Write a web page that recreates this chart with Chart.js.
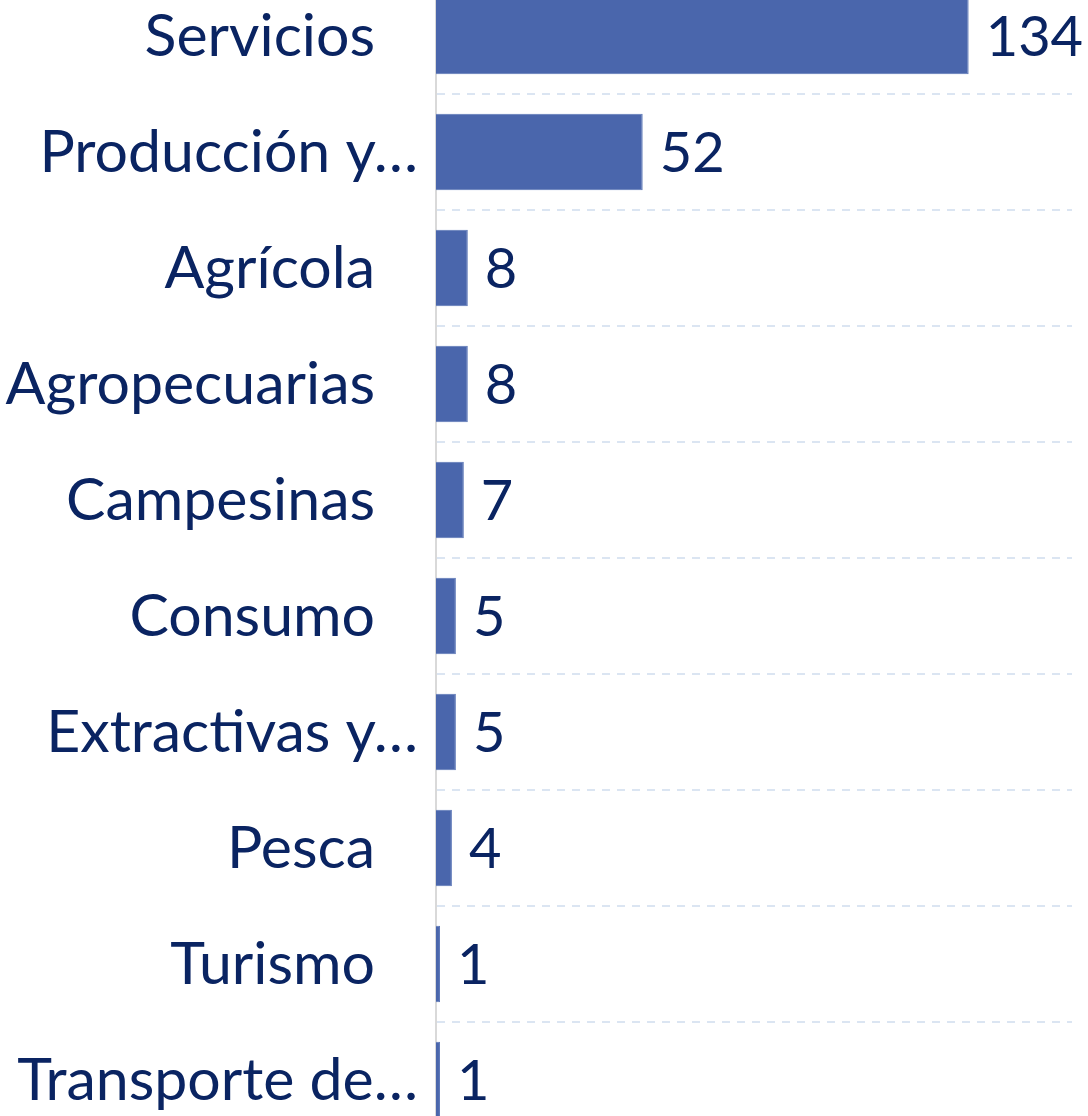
<!DOCTYPE html>
<html>
<head>
<meta charset="utf-8">
<script src="https://cdn.jsdelivr.net/npm/chart.js@4.4.0/dist/chart.umd.min.js"></script>
<style>
  html, body { margin:0; padding:0; background:#fff; overflow:hidden; }
  #wrap { position:relative; width:1088px; height:1116px; overflow:hidden; }
  #box { position:absolute; left:0; top:-22px; width:1088px; height:1160px; }
</style>
</head>
<body>
<div id="wrap"><div id="box"><canvas id="c"></canvas></div></div>
<script>
// datos
const categories = ['Servicios','Producción y…','Agrícola','Agropecuarias','Campesinas','Consumo','Extractivas y…','Pesca','Turismo','Transporte de…'];
const values = [134, 52, 8, 8, 7, 5, 5, 4, 1, 1];
const xMax = 160;

const TEXT = '#0a2462';
const FONT = 'Lato, "Open Sans", sans-serif';

const labelsPlugin = {
  id:'labelsPlugin',
  afterDraw(chart){
    const ctx = chart.ctx;
    const meta = chart.getDatasetMeta(0);
    const yScale = chart.scales.y;
    ctx.save();
    ctx.fillStyle = TEXT;
    ctx.textBaseline = 'middle';
    // valores
    ctx.font = `56px ${FONT}`;
    ctx.textAlign = 'left';
    meta.data.forEach((bar, i) => {
      ctx.fillText(String(values[i]), bar.x + 17, bar.y + 2);
    });
    // categorias
    ctx.font = `59px ${FONT}`;
    ctx.textAlign = 'right';
    categories.forEach((name, i) => {
      const y = yScale.getPixelForTick(i);
      const x = name.endsWith('…') ? 418 : 375;
      ctx.fillText(name, x, y + 1);
    });
    ctx.restore();
  }
};

new Chart(document.getElementById('c'), {
  type:'bar',
  data:{
    labels: categories,
    datasets:[{
      data: values,
      backgroundColor:'#4a66ac',
      borderColor:'#5a75b6',
      borderWidth:1,
      barPercentage:0.66,
      categoryPercentage:1
    }]
  },
  options:{
    indexAxis:'y',
    responsive:true,
    maintainAspectRatio:false,
    animation:false,
    layout:{ padding:{ top:0, right:16, bottom:0, left:0 } },
    plugins:{ legend:{ display:false }, tooltip:{ enabled:false } },
    scales:{
      x:{
        min:0, max:xMax,
        display:false,
        grid:{ display:false }
      },
      y:{
        grid:{
          offset:true,
          color:'#dbe5f2',
          lineWidth:2,
          drawTicks:false
        },
        border:{ display:true, color:'#d9d9d9', width:2, dash:[8,7] },
        ticks:{ display:false },
        afterFit(scale){ scale.width = 436; }
      }
    }
  },
  plugins:[labelsPlugin]
});
</script>
</body>
</html>
